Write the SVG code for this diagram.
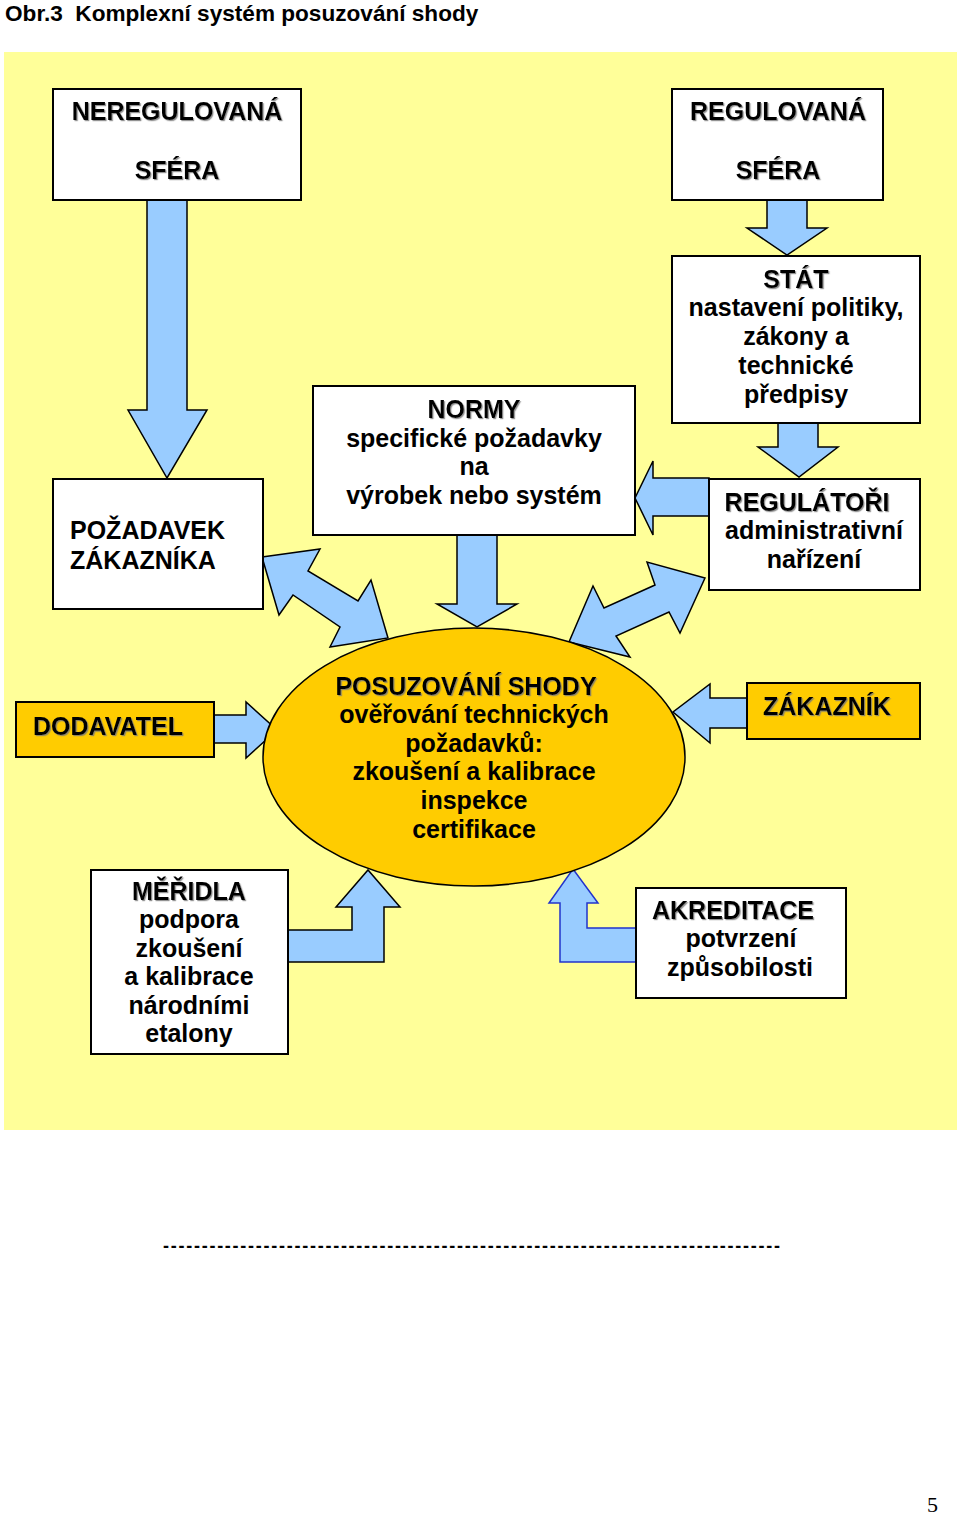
<svg xmlns="http://www.w3.org/2000/svg" width="960" height="1514" viewBox="0 0 960 1514">
<defs>
<style>
.t{font-family:"Liberation Sans",Arial,sans-serif;font-weight:bold;font-size:25px;fill:#000;text-anchor:middle}
.l{text-anchor:start}
.h{filter:url(#sh)}
.box{fill:#fff;stroke:#000;stroke-width:2}
.or{fill:#FFCC00;stroke:#000;stroke-width:2}
.ar{fill:#99CCFF;stroke:#000;stroke-width:1.5;stroke-linejoin:miter}
.arb{fill:#99CCFF;stroke:#2233CC;stroke-width:1.5}
</style>
<filter id="sh" x="-5%" y="-20%" width="110%" height="140%">
<feDropShadow dx="1.2" dy="1.2" stdDeviation="0.4" flood-color="#777" flood-opacity="0.8"/>
</filter>
</defs>
<rect width="960" height="1514" fill="#fff"/>
<text x="5" y="21" font-family="Liberation Sans,Arial,sans-serif" font-weight="bold" font-size="22.6">Obr.3&#160; Komplexní systém posuzování shody</text>
<rect x="4" y="52" width="953" height="1078" fill="#FFFF99"/>

<g id="connectors">
<polygon class="ar" points="147,200 187,200 187,410 207,410 167,478 128,410 147,410"/>
<polygon class="ar" points="767,200 807,200 807,228 827,228 787,255 747,228 767,228"/>
<polygon class="ar" points="778,423 818,423 818,447 838,447 799,477 758,447 778,447"/>
<polygon class="ar" points="709,478 653,478 653,461 635,498 653,535 653,516 709,516"/>
<polygon class="ar" points="457,535 497,535 497,604 517,604 477,627 437,604 457,604"/>
<polygon class="ar" points="262,557 320,549 308,571 358,601 371,580 388,638 330,647 340,627 293,595 279,615"/>
<polygon class="ar" points="705,578 680,633 669,612 616,636 630,657 569,642 593,586 604,608 655,585 647,562"/>
<polygon class="ar" points="214,715 246,715 246,702 277,730 246,758 246,743 214,743"/>
<polygon class="ar" points="747,698 710,698 710,684 673,712 710,743 710,728 747,728"/>
<polygon class="ar" points="288,930 352,930 352,907 336,907 368,870 400,907 384,907 384,962 288,962"/>
<polygon class="arb" points="636,928 587,928 587,903 598,903 573,869 549,903 560,903 560,962 636,962"/>
</g>

<g id="neregulovana">
<rect class="box" x="53" y="89" width="248" height="111"/>
<text class="t h" x="177" y="120">NEREGULOVANÁ</text>
<text class="t h" x="177" y="179">SFÉRA</text>
</g>
<g id="regulovana">
<rect class="box" x="672" y="89" width="211" height="111"/>
<text class="t h" x="778" y="120">REGULOVANÁ</text>
<text class="t h" x="778" y="179">SFÉRA</text>
</g>
<g id="stat">
<rect class="box" x="672" y="256" width="248" height="167"/>
<text class="t h" x="796" y="288">STÁT</text>
<text class="t" x="796" y="316">nastavení politiky,</text>
<text class="t" x="796" y="345">zákony a</text>
<text class="t" x="796" y="374">technické</text>
<text class="t" x="796" y="403">předpisy</text>
</g>
<g id="normy">
<rect class="box" x="313" y="386" width="322" height="149"/>
<text class="t h" x="474" y="418">NORMY</text>
<text class="t" x="474" y="447">specifické požadavky</text>
<text class="t" x="474" y="475">na</text>
<text class="t" x="474" y="504">výrobek nebo systém</text>
</g>
<g id="regulatori">
<rect class="box" x="709" y="479" width="211" height="111"/>
<text class="t h" x="807" y="511">REGULÁTOŘI</text>
<text class="t" x="814" y="539">administrativní</text>
<text class="t" x="814" y="568">nařízení</text>
</g>
<g id="pozadavek">
<rect class="box" x="53" y="479" width="210" height="130"/>
<text class="t l" x="70" y="539">POŽADAVEK</text>
<text class="t l" x="70" y="569">ZÁKAZNÍKA</text>
</g>
<g id="dodavatel">
<rect class="or" x="16" y="702" width="198" height="55"/>
<text class="t l h" x="33" y="735">DODAVATEL</text>
</g>
<g id="zakaznik">
<rect class="or" x="747" y="683" width="173" height="56"/>
<text class="t l h" x="763" y="715">ZÁKAZNÍK</text>
</g>
<g id="posuzovani">
<ellipse cx="474" cy="757" rx="211" ry="129" fill="#FFCC00" stroke="#000" stroke-width="1.5"/>
<text class="t h" x="466" y="695">POSUZOVÁNÍ SHODY</text>
<text class="t" x="474" y="723">ověřování technických</text>
<text class="t" x="474" y="752">požadavků:</text>
<text class="t" x="474" y="780">zkoušení a kalibrace</text>
<text class="t" x="474" y="809">inspekce</text>
<text class="t" x="474" y="838">certifikace</text>
</g>
<g id="meridla">
<rect class="box" x="91" y="870" width="197" height="184"/>
<text class="t h" x="189" y="900">MĚŘIDLA</text>
<text class="t" x="189" y="928">podpora</text>
<text class="t" x="189" y="957">zkoušení</text>
<text class="t" x="189" y="985">a kalibrace</text>
<text class="t" x="189" y="1014">národními</text>
<text class="t" x="189" y="1042">etalony</text>
</g>
<g id="akreditace">
<rect class="box" x="636" y="888" width="210" height="110"/>
<text class="t l h" x="652" y="919">AKREDITACE</text>
<text class="t" x="741" y="947">potvrzení</text>
<text class="t" x="740" y="976">způsobilosti</text>
</g>
<text x="163" y="1252" font-family="Liberation Sans,Arial,sans-serif" font-weight="bold" font-size="18" textLength="617" lengthAdjust="spacing">--------------------------------------------------------------------------------</text>
<text x="927" y="1512" font-family="Liberation Serif,Times New Roman,serif" font-size="22">5</text>
</svg>
